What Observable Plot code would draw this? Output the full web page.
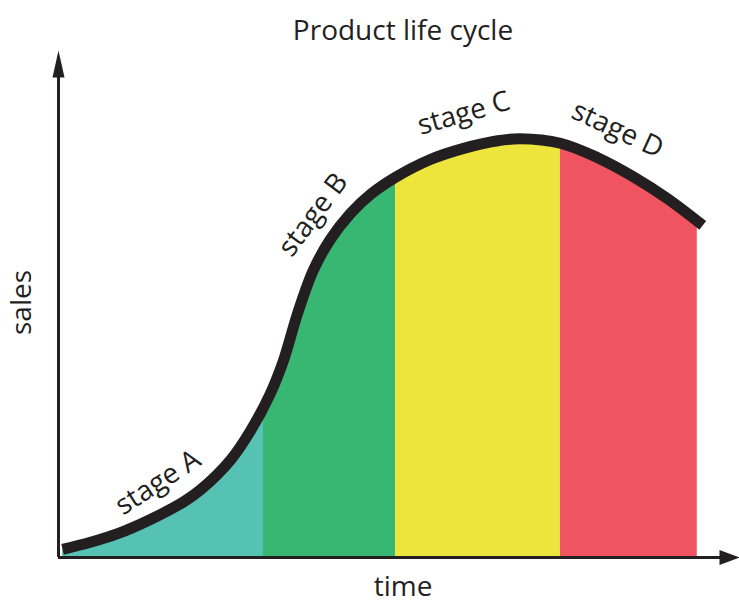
<!DOCTYPE html>
<html><head><meta charset="utf-8">
<script src="https://cdn.jsdelivr.net/npm/d3@7"></script>
<script src="https://cdn.jsdelivr.net/npm/@observablehq/plot@0.6"></script>
<style>body{margin:0;background:#fff}</style>
</head><body><div id="chart"></div>
<script>
// Sales curve over time (arbitrary units, 0–100 on both axes)
const time  = [0.6, 4.7, 8.7, 13.5, 18.4, 20.9, 25.3, 28.2, 31.1, 33.0, 35.1, 37.4, 39.9, 42.9, 45.8, 49.5, 54.6, 59.5, 64.5, 67.8, 73.7, 79.1, 84.4, 89.4, 94.6];
const sales = [1.6, 3.0, 4.7, 7.5, 11.0, 13.4, 19.3, 25.0, 32.3, 38.7, 48.1, 56.6, 62.7, 67.9, 71.6, 75.0, 78.5, 80.7, 82.2, 82.6, 81.7, 78.9, 75.1, 70.8, 65.5];

// Stages
const stageNames  = ["stage A", "stage B", "stage C", "stage D"];
const stageStart  = [0.6, 30.1, 49.5, 73.7];
const stageEnd    = [30.1, 49.5, 73.7, 93.8];
const stageColors = ["#55c2b3", "#38b773", "#ede53b", "#f05460"];

// Stage label anchors along the curve
const labelTime  = [14.6, 37.4, 59.5, 82.1];
const labelSales = [14.8, 67.6, 87.6, 84.4];
const labelAngle = [-33, -53, -16, 25];

const title = "Product life cycle";
const xLabel = "time";
const yLabel = "sales";
const axisMax = 100;

const curveData = time.map((t, i) => ({t, s: sales[i]}));
const stages = stageNames.map((name, i) => ({name, x1: stageStart[i], x2: stageEnd[i], color: stageColors[i]}));
const labels = stageNames.map((name, i) => ({name, t: labelTime[i], s: labelSales[i], a: labelAngle[i]}));

const ink = "#231f20";
const font = "Open Sans";

const arrowUp = {draw(ctx, size) {
  const r = Math.sqrt(size / Math.PI);
  ctx.moveTo(0, 0); ctx.lineTo(-0.6 * r, 2.7 * r); ctx.lineTo(0.6 * r, 2.7 * r); ctx.closePath();
}};
const arrowRight = {draw(ctx, size) {
  const r = Math.sqrt(size / Math.PI);
  ctx.moveTo(0, 0); ctx.lineTo(-2 * r, -0.75 * r); ctx.lineTo(-2 * r, 0.75 * r); ctx.closePath();
}};

const plot = Plot.plot({
  width: 739,
  height: 606,
  marginLeft: 58,
  marginRight: 0,
  marginTop: 50,
  marginBottom: 49,
  x: {domain: [0, axisMax], axis: null},
  y: {domain: [0, axisMax], axis: null},
  style: {fontFamily: font, background: "#fff"},
  marks: [
    Plot.rectY(stages, {x1: "x1", x2: "x2", y1: 0, y2: axisMax, fill: d => d.color}),
    Plot.areaY(curveData, {x: "t", y1: "s", y2: axisMax, fill: "white", curve: "catmull-rom"}),
    Plot.line(curveData, {x: "t", y: "s", stroke: ink, strokeWidth: 11, strokeLinecap: "butt", curve: "catmull-rom"}),
    Plot.ruleX([0], {y1: 0, y2: axisMax - 4, stroke: ink, strokeWidth: 3}),
    Plot.ruleY([0], {x1: 0, x2: axisMax - 2, stroke: ink, strokeWidth: 3}),
    Plot.dot([{x: 0, y: axisMax}], {x: "x", y: "y", symbol: arrowUp, r: 10, fill: ink, stroke: "none"}),
    Plot.dot([{x: axisMax, y: 0}], {x: "x", y: "y", symbol: arrowRight, r: 10, fill: ink, stroke: "none"}),
    Plot.text(labels, {x: "t", y: "s", text: "name", rotate: "a", fontSize: 28, fill: ink, fontFamily: font}),
    Plot.text([title], {frameAnchor: "top", lineAnchor: "middle", textAnchor: "middle", dx: 4, dy: -19, fontSize: 28, fill: ink, fontFamily: font}),
    Plot.text([xLabel], {frameAnchor: "bottom", lineAnchor: "middle", textAnchor: "middle", dx: 4, dy: 30, fontSize: 28, fill: ink, fontFamily: font}),
    Plot.text([yLabel], {frameAnchor: "left", lineAnchor: "middle", textAnchor: "middle", dx: -36, dy: -1.5, rotate: -90, fontSize: 28, fill: ink, fontFamily: font})
  ]
});
document.getElementById("chart").appendChild(plot);
</script>
</body></html>
